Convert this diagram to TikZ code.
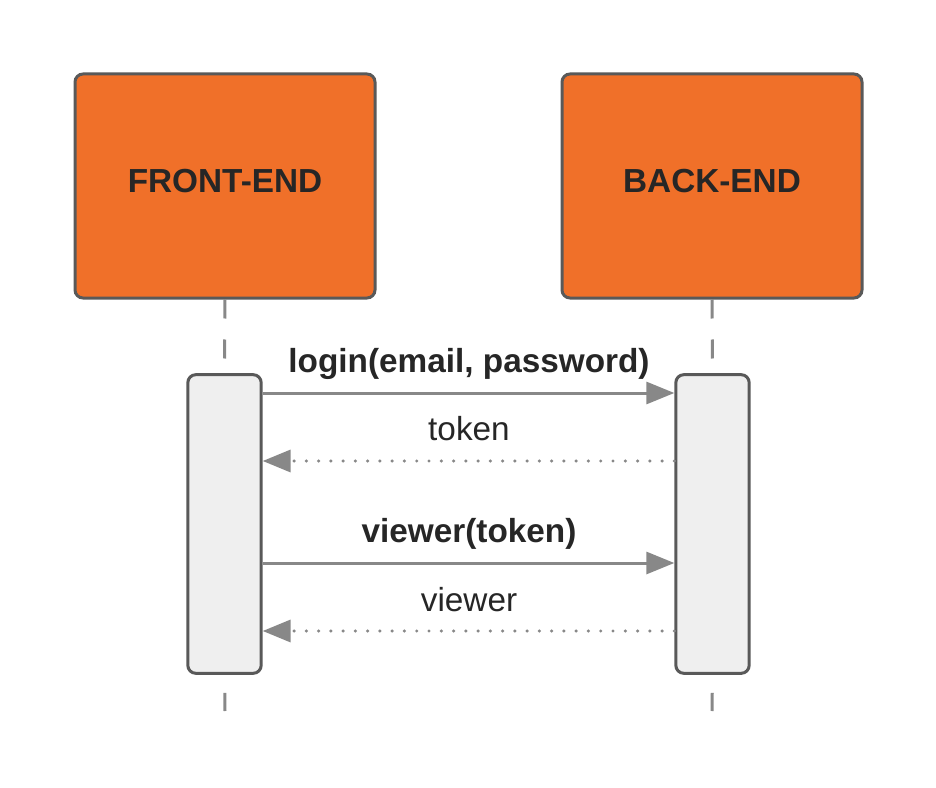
\documentclass[tikz,border=0pt]{standalone}
\usepackage{fontspec}
\setmainfont{Liberation Sans}
\usetikzlibrary{arrows.meta}

\definecolor{partyorange}{RGB}{240,112,41}
\definecolor{edgegray}{RGB}{89,89,89}
\definecolor{msggray}{RGB}{136,136,136}
\definecolor{actgray}{RGB}{239,239,239}
\definecolor{textdark}{RGB}{38,38,38}

\tikzset{
  party/.style={draw=edgegray, fill=partyorange, line width=2.25pt, rounded corners=6pt,
    minimum width=225pt, minimum height=168pt, inner sep=0pt, text depth=7.5pt,
    text=textdark, font=\fontsize{25}{30}\selectfont\bfseries},
  actbox/.style={draw=edgegray, fill=actgray, line width=2.25pt, rounded corners=6pt,
    minimum width=55pt, minimum height=224pt, inner sep=0pt},
  lifeline/.style={draw=msggray, line width=2.25pt},
  msg/.style={draw=msggray, line width=2.25pt, -{Triangle[length=21pt,width=16.5pt]}},
  reply/.style={draw=msggray, line width=2.6pt, line cap=round, dash pattern=on 0pt off 9.2pt,
    -{Triangle[length=21pt,width=16.5pt,line cap=butt]}},
  msglabel/.style={anchor=base, inner sep=0pt, text=textdark, font=\fontsize{25}{30}\selectfont}
}

\begin{document}
\begin{tikzpicture}[x=0.75pt,y=0.75pt,yscale=-1,xscale=1]
\useasboundingbox (0,0) rectangle (936,788);

%Lifelines ends
\coordinate (frontend-end) at (225,711);
\coordinate (backend-end) at (712,711);

%Message rows
\coordinate (m1) at (0,393);
\coordinate (m2) at (0,461);
\coordinate (m3) at (0,563);
\coordinate (m4) at (0,631);

%Shape: Participants
\node[party] (frontend) at (225,186) {FRONT-END};
\node[party] (backend) at (712,186) {BACK-END};

%Shape: Activation boxes
\node[actbox] (frontact) at (224.5,524) {};
\node[actbox] (backact) at (712.5,524) {};

%Lifelines
\draw[lifeline, dash pattern=on 14.25pt off 15.75pt] (frontend.south) -- (frontact.north);
\draw[lifeline, dash pattern=on 14.25pt off 15.75pt] (backend.south) -- (backact.north);
\draw[lifeline, dash pattern=on 0pt off 13.5pt on 14.25pt off 20pt] (frontact.south) -- (frontend-end);
\draw[lifeline, dash pattern=on 0pt off 13.5pt on 14.25pt off 20pt] (backact.south) -- (backend-end);

%Messages
\draw[msg] (frontact.east |- m1) -- (backact.west |- m1);
\draw[reply] (backact.west |- m2) -- (frontact.east |- m2);
\draw[msg] (frontact.east |- m3) -- (backact.west |- m3);
\draw[reply] (backact.west |- m4) -- (frontact.east |- m4);

% Text Node
\node[msglabel, font=\fontsize{25}{30}\selectfont\bfseries] (login) at (469,372) {login(email, password)};
% Text Node
\node[msglabel] (token) at (469,440) {token};
% Text Node
\node[msglabel, font=\fontsize{25}{30}\selectfont\bfseries] (viewertoken) at (469,542) {viewer(token)};
% Text Node
\node[msglabel] (viewer) at (469,611) {viewer};

\end{tikzpicture}
\end{document}
